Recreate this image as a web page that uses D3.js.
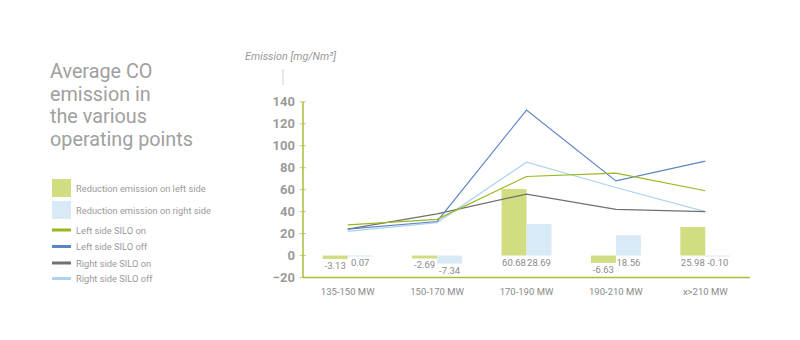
<!DOCTYPE html>
<html><head><meta charset="utf-8">
<script src="https://cdn.jsdelivr.net/npm/d3@7"></script>
<style>body{margin:0;background:#fff}svg{display:block;font-family:Roboto,sans-serif}</style>
</head><body><div id="chart"></div>
<script>
const categories = ["135-150 MW","150-170 MW","170-190 MW","190-210 MW","x>210 MW"];
const reductionLeft = [-3.13, -2.69, 60.68, -6.63, 25.98];
const reductionRight = [0.07, -7.34, 28.69, 18.56, -0.10];
const leftSiloOn = [28, 33, 72, 75, 59];
const leftSiloOff = [24, 31, 132.5, 68, 86];
const rightSiloOn = [24, 38, 56, 42, 40];
const rightSiloOff = [22, 30, 85, 62, 40];
const yTicks = [-20, 0, 20, 40, 60, 80, 100, 120, 140];
const titleLines = ["Average CO", "emission in", "the various", "operating points"];
const legendItems = [
  {label:"Reduction emission on left side", type:"bar", color:"#d2dc80"},
  {label:"Reduction emission on right side", type:"bar", color:"#d7eaf6"},
  {label:"Left side SILO on", type:"line", color:"#97b821"},
  {label:"Left side SILO off", type:"line", color:"#5b85c4"},
  {label:"Right side SILO on", type:"line", color:"#707070"},
  {label:"Right side SILO off", type:"line", color:"#add3f1"}
];

const W = 800, H = 340;
const svg = d3.select("#chart").append("svg").attr("width", W).attr("height", H);

const x = d3.scaleBand().domain(categories).range([303, 750]).padding(0);
const y = d3.scaleLinear().domain([-20, 140]).range([277.5, 101.8]);
const barW = 25;
const cx = c => x(c) + x.bandwidth() / 2;

// Title
svg.append("g").selectAll("text").data(titleLines).join("text")
  .attr("x", 50).attr("y", (d, i) => 78 + i * 22.5)
  .attr("font-size", 19.8).attr("font-weight", 400).attr("fill", "#a0a0a0").text(d => d);

// Y label
svg.append("text").attr("x", 245).attr("y", 60).attr("font-size", 10.8)
  .attr("font-style", "italic").attr("fill", "#9a9a9a").text("Emission [mg/Nm³]");
svg.append("line").attr("x1", 283).attr("x2", 283).attr("y1", 69).attr("y2", 85)
  .attr("stroke", "#e2e2e2").attr("stroke-width", 1.5);

// Y axis
const yAxis = svg.append("g").attr("transform", "translate(303,0)")
  .call(d3.axisLeft(y).tickValues(yTicks).tickSize(0).tickPadding(8));
yAxis.select(".domain").remove();
yAxis.selectAll("text").attr("font-size", 13).attr("font-weight", "bold")
  .attr("fill", "#9a9a9a").attr("font-family", "Roboto, sans-serif");
svg.append("g").selectAll("line").data(yTicks).join("line")
  .attr("x1", 299.5).attr("x2", 306).attr("y1", d => y(d)).attr("y2", d => y(d))
  .attr("stroke", "#c4d47a").attr("stroke-width", 1);
svg.append("line").attr("x1", 303).attr("x2", 303).attr("y1", y(140)).attr("y2", y(-20))
  .attr("stroke", "#a4bf3a").attr("stroke-width", 1.5);

// Bars
const bars = svg.append("g");
function drawBars(vals, offset, color) {
  bars.selectAll(null).data(vals).join("rect")
    .attr("x", (d, i) => cx(categories[i]) + offset)
    .attr("width", barW)
    .attr("y", d => y(Math.max(0, d)))
    .attr("height", d => Math.max(1, Math.abs(y(d) - y(0))))
    .attr("fill", color);
  bars.selectAll(null).data(vals).join("text")
    .attr("x", (d, i) => cx(categories[i]) + offset + barW / 2)
    .attr("y", d => y(Math.min(0, d)) + 10)
    .attr("text-anchor", "middle").attr("font-size", 9.5).attr("fill", "#8a8a8a")
    .text(d => d.toFixed(2));
}
drawBars(reductionLeft, -barW, "#d2dc80");
drawBars(reductionRight, 0, "#d7eaf6");

// Lines
const line = d3.line().x((d, i) => cx(categories[i])).y(d => y(d));
[[rightSiloOff, "#add3f1"], [rightSiloOn, "#707070"], [leftSiloOff, "#5b85c4"], [leftSiloOn, "#97b821"]]
  .forEach(([vals, color]) => {
    svg.append("path").datum(vals).attr("d", line).attr("fill", "none")
      .attr("stroke", color).attr("stroke-width", 1.2);
  });

// X axis
svg.append("line").attr("x1", 303).attr("x2", 750).attr("y1", y(-20)).attr("y2", y(-20))
  .attr("stroke", "#a4bf3a").attr("stroke-width", 1.5);
const xAxis = svg.append("g").attr("transform", `translate(0,${y(-20)})`)
  .call(d3.axisBottom(x).tickSize(0).tickPadding(11));
xAxis.select(".domain").remove();
xAxis.selectAll("text").attr("font-size", 9.5).attr("fill", "#8a8a8a")
  .attr("font-family", "Roboto, sans-serif");

// Legend
const lg = svg.append("g");
const legY = [179, 201, 230, 246.5, 263, 278.5];
legendItems.forEach((d, i) => {
  if (d.type === "bar") {
    lg.append("rect").attr("x", 52).attr("y", legY[i]).attr("width", 19).attr("height", 18).attr("fill", d.color);
    lg.append("text").attr("x", 76).attr("y", legY[i] + 12.5).attr("font-size", 9.3).attr("fill", "#9a9a9a").text(d.label);
  } else {
    lg.append("rect").attr("x", 52).attr("y", legY[i] - 1.5).attr("width", 19).attr("height", 3).attr("fill", d.color);
    lg.append("text").attr("x", 76).attr("y", legY[i] + 3.5).attr("font-size", 9.3).attr("fill", "#9a9a9a").text(d.label);
  }
});
</script></body></html>
